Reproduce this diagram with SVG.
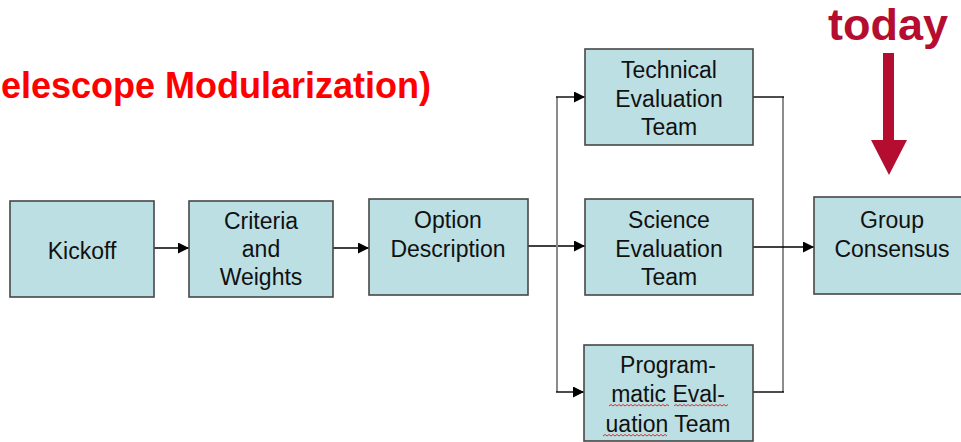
<svg xmlns="http://www.w3.org/2000/svg" width="961" height="442" viewBox="0 0 961 442">
<defs>
<style>
.box{fill:#BBDFE3;stroke:#474747;stroke-width:1.6}
.lbl{font-family:"Liberation Sans",Arial,sans-serif;font-size:23px;fill:#111;text-anchor:middle}
.ln{fill:none;stroke:#000;stroke-width:1.4}
.lg{fill:none;stroke:#8c8c8c;stroke-width:2}
.sq{fill:none;stroke:#e03030;stroke-width:1}
</style>
<marker id="ah" viewBox="0 0 10 10" refX="10" refY="5" markerWidth="11" markerHeight="11" markerUnits="userSpaceOnUse" orient="auto">
<path d="M0,0 L10,5 L0,10 Z" fill="#000"/>
</marker>
</defs>
<rect width="961" height="442" fill="#fff"/>
<text id="title" x="431" y="98" text-anchor="end" font-family="'Liberation Sans',Arial,sans-serif" font-size="36" font-weight="bold" fill="#FF0000">elescope Modularization)</text>
<g id="today">
<text x="888" y="40" text-anchor="middle" font-family="'Liberation Sans',Arial,sans-serif" font-size="45" font-weight="bold" fill="#B50D30">today</text>
<path d="M883,53 H894 V140 H907 L889,175 L871,140 H883 Z" fill="#B50D30"/>
</g>
<g id="connectors">
<line class="ln" x1="154" y1="248" x2="189" y2="248" marker-end="url(#ah)"/>
<line class="ln" x1="333" y1="248" x2="369" y2="248" marker-end="url(#ah)"/>
<line class="ln" x1="528" y1="246" x2="585" y2="246" marker-end="url(#ah)"/>
<line class="lg" x1="557" y1="97" x2="557" y2="392"/>
<line class="ln" x1="556" y1="97" x2="585" y2="97" marker-end="url(#ah)"/>
<line class="ln" x1="556" y1="392" x2="584" y2="392" marker-end="url(#ah)"/>
<line class="lg" x1="783" y1="97" x2="783" y2="392"/>
<polyline class="ln" points="753,97 784,97"/>
<polyline class="ln" points="753,392 784,392"/>
<line class="ln" x1="753" y1="247" x2="814" y2="247" marker-end="url(#ah)"/>
</g>
<g id="kickoff">
<rect class="box" x="10" y="201" width="144" height="96"/>
<text class="lbl" x="82" y="259">Kickoff</text>
</g>
<g id="criteria">
<rect class="box" x="189" y="201" width="144" height="96"/>
<text class="lbl" x="261" y="229">Criteria</text>
<text class="lbl" x="261" y="257">and</text>
<text class="lbl" x="261" y="285">Weights</text>
</g>
<g id="option">
<rect class="box" x="369" y="199" width="159" height="96"/>
<text class="lbl" x="448" y="228">Option</text>
<text class="lbl" x="448" y="257">Description</text>
</g>
<g id="technical">
<rect class="box" x="585" y="49" width="168" height="96"/>
<text class="lbl" x="669" y="78">Technical</text>
<text class="lbl" x="669" y="107">Evaluation</text>
<text class="lbl" x="669" y="135">Team</text>
</g>
<g id="science">
<rect class="box" x="585" y="199" width="168" height="96"/>
<text class="lbl" x="669" y="228">Science</text>
<text class="lbl" x="669" y="257">Evaluation</text>
<text class="lbl" x="669" y="285">Team</text>
</g>
<g id="programmatic">
<rect class="box" x="584" y="345" width="169" height="96"/>
<text class="lbl" x="668" y="373">Program-</text>
<text class="lbl" x="668" y="402">matic Eval-</text>
<text class="lbl" x="668" y="432">uation Team</text>
<path class="sq" d="M609,406 l2,-1.5 l2,1.5 l2,-1.5 l2,1.5 l2,-1.5 l2,1.5 l2,-1.5 l2,1.5 l2,-1.5 l2,1.5 l2,-1.5 l2,1.5 l2,-1.5 l2,1.5 l2,-1.5 l2,1.5 l2,-1.5 l2,1.5 l2,-1.5 l2,1.5 l2,-1.5 l2,1.5 l2,-1.5 l2,1.5 l2,-1.5 l2,1.5 l2,-1.5 l2,1.5 l2,-1.5 l2,1.5"/>
<path class="sq" d="M674,406 l2,-1.5 l2,1.5 l2,-1.5 l2,1.5 l2,-1.5 l2,1.5 l2,-1.5 l2,1.5 l2,-1.5 l2,1.5 l2,-1.5 l2,1.5 l2,-1.5 l2,1.5 l2,-1.5 l2,1.5 l2,-1.5 l2,1.5 l2,-1.5 l2,1.5 l2,-1.5 l2,1.5 l2,-1.5 l2,1.5 l2,-1.5 l2,1.5 l2,-1.5"/>
<path class="sq" d="M603,436 l2,-1.5 l2,1.5 l2,-1.5 l2,1.5 l2,-1.5 l2,1.5 l2,-1.5 l2,1.5 l2,-1.5 l2,1.5 l2,-1.5 l2,1.5 l2,-1.5 l2,1.5 l2,-1.5 l2,1.5 l2,-1.5 l2,1.5 l2,-1.5 l2,1.5 l2,-1.5 l2,1.5 l2,-1.5 l2,1.5 l2,-1.5 l2,1.5 l2,-1.5 l2,1.5 l2,-1.5 l2,1.5 l2,-1.5 l2,1.5"/>
</g>
<g id="group">
<rect class="box" x="814" y="197" width="160" height="97"/>
<text class="lbl" x="892" y="228">Group</text>
<text class="lbl" x="892" y="257">Consensus</text>
</g>
</svg>
